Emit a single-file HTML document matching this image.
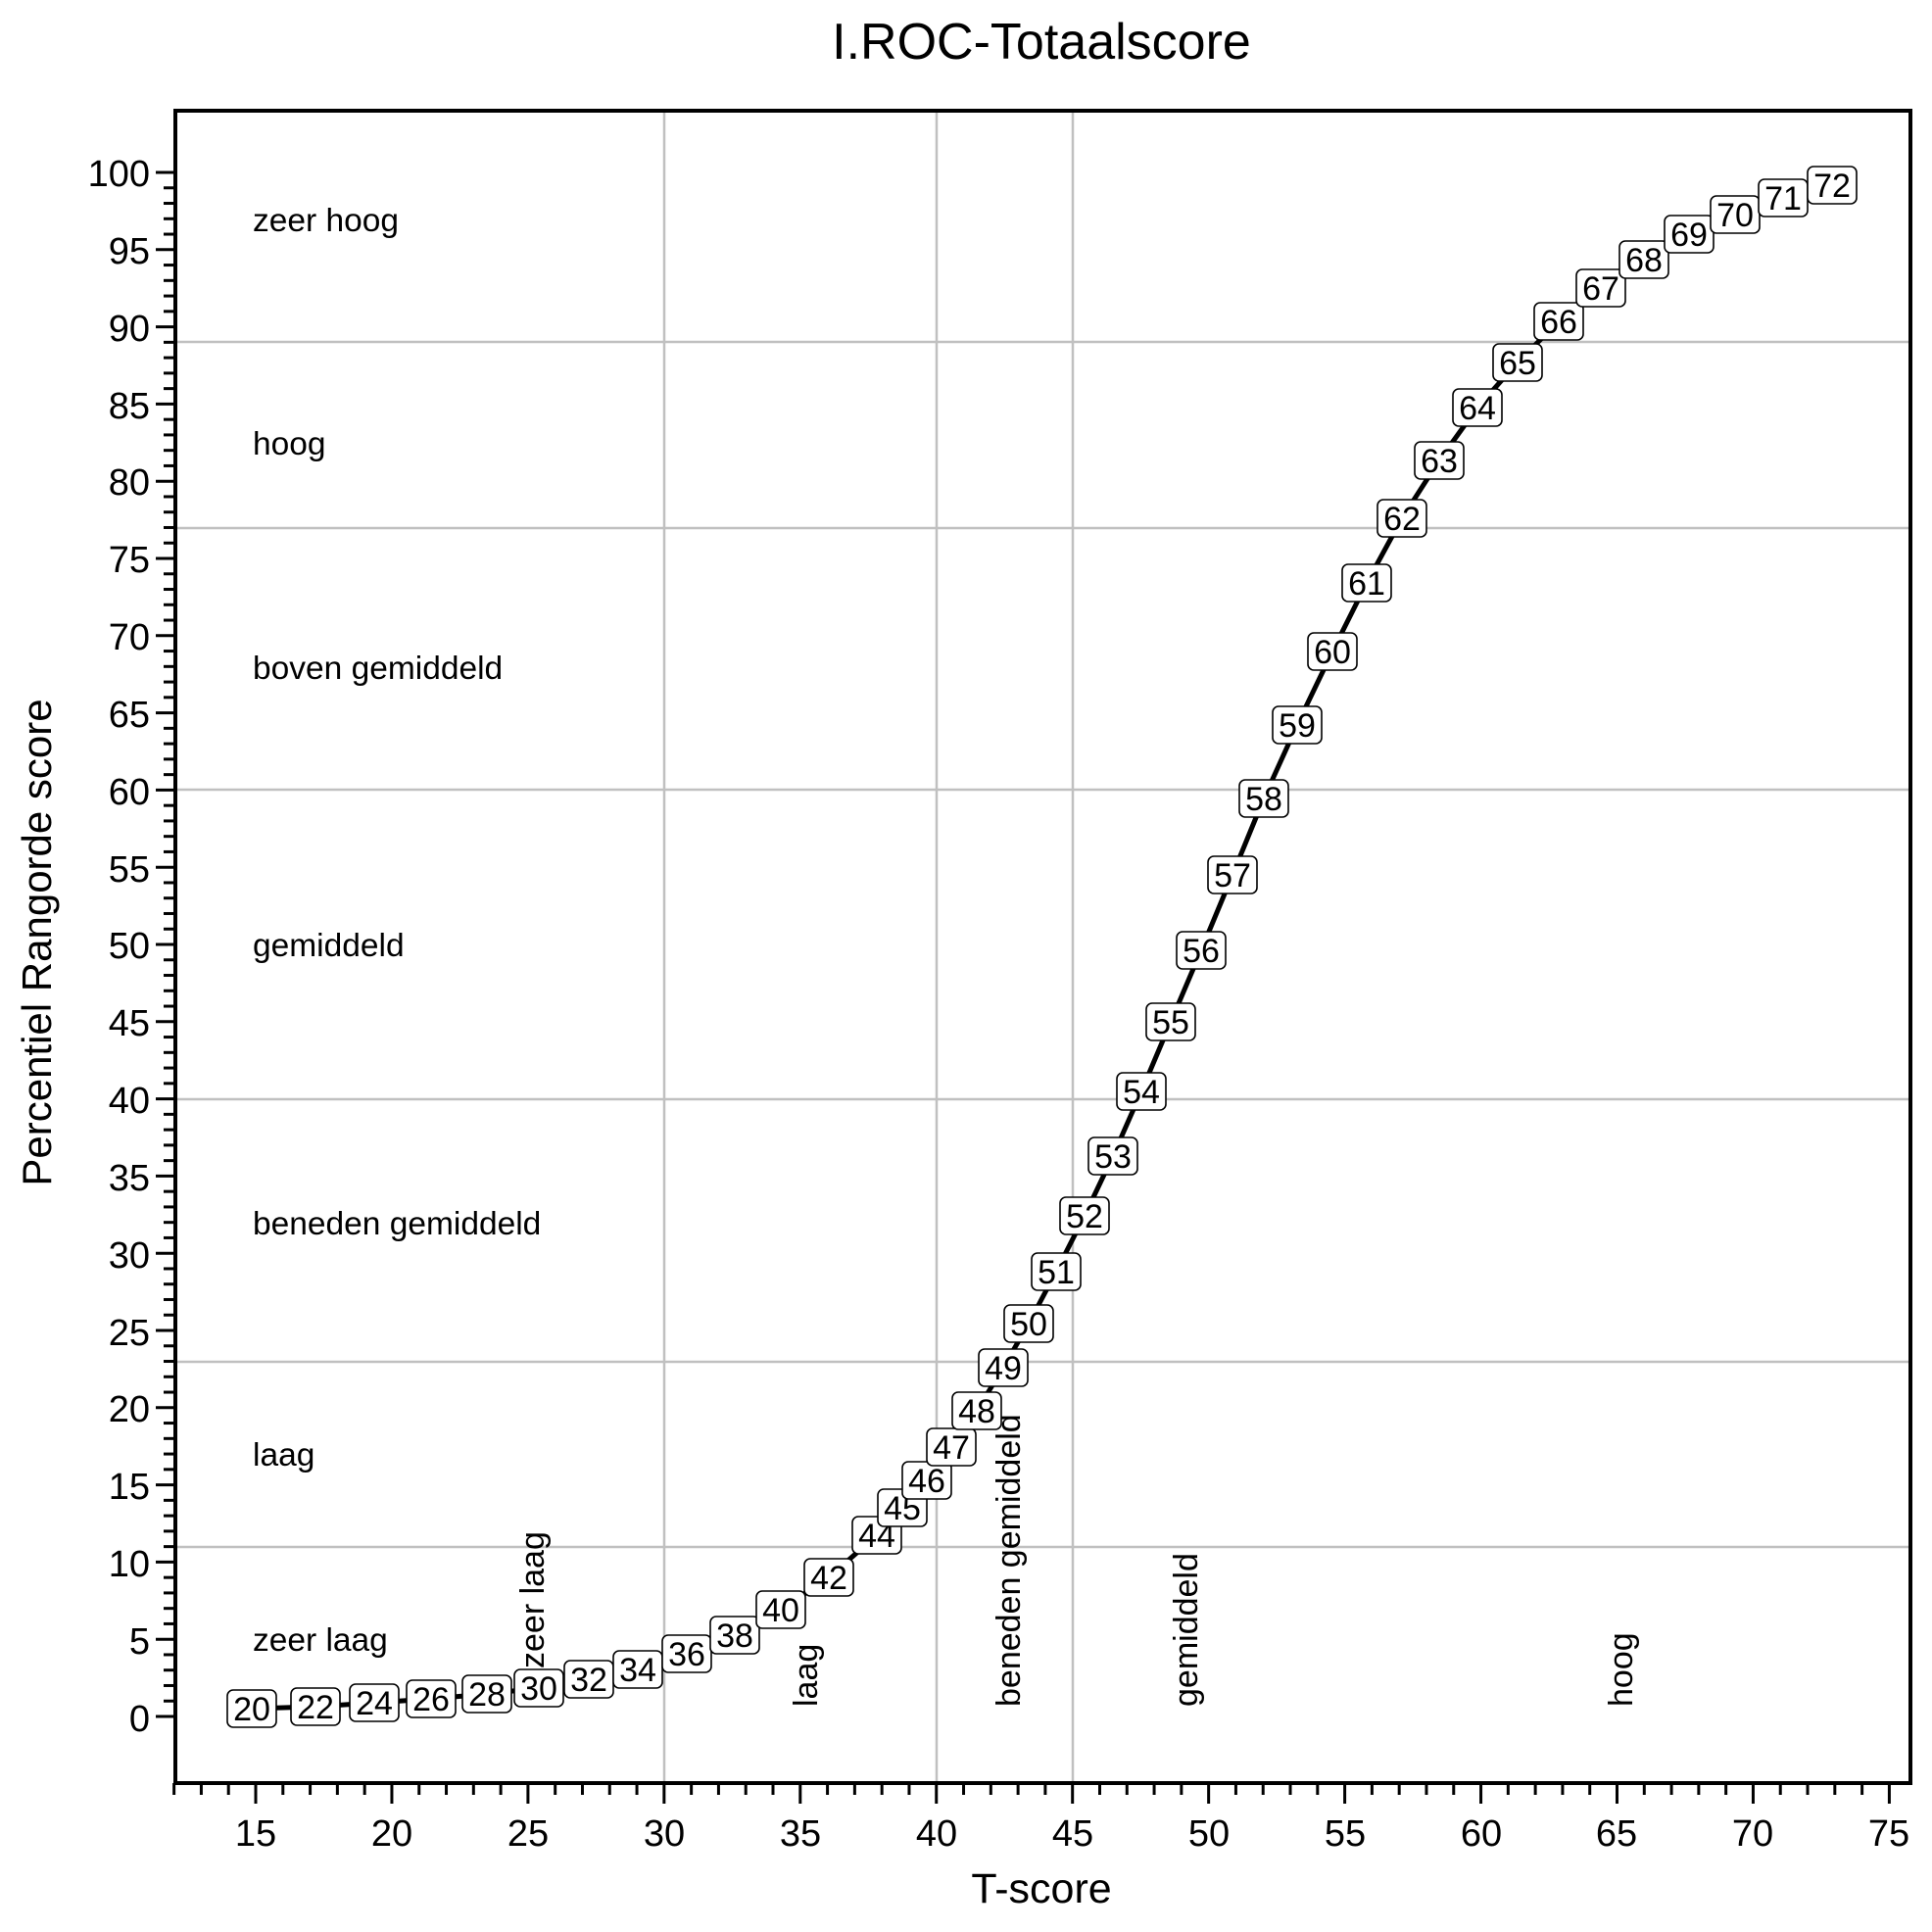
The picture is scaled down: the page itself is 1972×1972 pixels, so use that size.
<!DOCTYPE html>
<html><head><meta charset="utf-8"><style>
html,body{margin:0;padding:0;background:#fff}
svg{display:block}
text{font-family:"Liberation Sans",Arial,sans-serif;fill:#000}
.b rect{fill:#fff;stroke:#000;stroke-width:1.6}
.b text{font-size:34px;text-anchor:middle}
.yt{font-size:38px;text-anchor:end}
.xt{font-size:38px;text-anchor:middle}
.rl{font-size:33.5px}
.vl{font-size:34px}
</style></head><body>
<svg id="s" width="1972" height="1972" viewBox="0 0 1972 1972" xmlns="http://www.w3.org/2000/svg">
<rect width="1972" height="1972" fill="#fff"/>
<text x="1063" y="60" font-size="52" text-anchor="middle">I.ROC-Totaalscore</text>
<g stroke="#c0c0c0" stroke-width="2.5">
<line x1="678" y1="113" x2="678" y2="1820"/>
<line x1="956" y1="113" x2="956" y2="1820"/>
<line x1="1095" y1="113" x2="1095" y2="1820"/>
<line x1="179" y1="349" x2="1950" y2="349"/>
<line x1="179" y1="539" x2="1950" y2="539"/>
<line x1="179" y1="806" x2="1950" y2="806"/>
<line x1="179" y1="1122" x2="1950" y2="1122"/>
<line x1="179" y1="1390" x2="1950" y2="1390"/>
<line x1="179" y1="1579" x2="1950" y2="1579"/>
</g>
<g id="ticks" stroke="#000" stroke-width="3"></g>
<rect x="179" y="113" width="1771" height="1707" fill="none" stroke="#000" stroke-width="4"/>
<g class="yt">
<text x="153" y="190">100</text><text x="153" y="269">95</text><text x="153" y="348">90</text><text x="153" y="427">85</text><text x="153" y="505">80</text><text x="153" y="584">75</text><text x="153" y="663">70</text><text x="153" y="742">65</text><text x="153" y="821">60</text><text x="153" y="900">55</text><text x="153" y="978">50</text><text x="153" y="1057">45</text><text x="153" y="1136">40</text><text x="153" y="1215">35</text><text x="153" y="1294">30</text><text x="153" y="1373">25</text><text x="153" y="1451">20</text><text x="153" y="1530">15</text><text x="153" y="1609">10</text><text x="153" y="1688">5</text><text x="153" y="1767">0</text>
</g>
<g class="xt">
<text x="261" y="1884">15</text><text x="400" y="1884">20</text><text x="539" y="1884">25</text><text x="678" y="1884">30</text><text x="817" y="1884">35</text><text x="956" y="1884">40</text><text x="1095" y="1884">45</text><text x="1234" y="1884">50</text><text x="1373" y="1884">55</text><text x="1512" y="1884">60</text><text x="1650" y="1884">65</text><text x="1789" y="1884">70</text><text x="1928" y="1884">75</text>
</g>
<text x="1063" y="1942" font-size="43" text-anchor="middle">T-score</text>
<text transform="translate(52,962) rotate(-90)" font-size="42" text-anchor="middle">Percentiel Rangorde score</text>
<g class="rl">
<text x="258" y="236">zeer hoog</text>
<text x="258" y="464">hoog</text>
<text x="258" y="693">boven gemiddeld</text>
<text x="258" y="976">gemiddeld</text>
<text x="258" y="1260">beneden gemiddeld</text>
<text x="258" y="1496">laag</text>
<text x="258" y="1685">zeer laag</text>
</g>
<g class="vl">
<text transform="translate(555,1703) rotate(-90)">zeer laag</text>
<text transform="translate(834,1742) rotate(-90)">laag</text>
<text transform="translate(1041,1742) rotate(-90)">beneden gemiddeld</text>
<text transform="translate(1222,1742) rotate(-90)">gemiddeld</text>
<text transform="translate(1666,1742) rotate(-90)">hoog</text>
</g>
<polyline fill="none" stroke="#000" stroke-width="5" stroke-linejoin="round" points="257,1744 322,1742 382,1738 440,1734 497,1729 550,1723 601,1714 651,1704 701,1688 750,1669 797,1643 846,1610 895,1567 921,1539 946,1511 971,1477 997,1440 1024,1396 1050,1351 1078,1298 1107,1241 1136,1180 1165,1114 1195,1043 1226,970 1258,893 1290,815 1324,740 1360,665 1395,595 1431,529 1469,470 1508,416 1549,370 1591,328 1634,294 1678,265 1724,239 1771,219 1820,202 1870,189"/>
<g class="b">
<g transform="translate(257,1744)"><rect x="-25" y="-19" width="50" height="38" rx="6"/><text y="12">20</text></g>
<g transform="translate(322,1742)"><rect x="-25" y="-19" width="50" height="38" rx="6"/><text y="12">22</text></g>
<g transform="translate(382,1738)"><rect x="-25" y="-19" width="50" height="38" rx="6"/><text y="12">24</text></g>
<g transform="translate(440,1734)"><rect x="-25" y="-19" width="50" height="38" rx="6"/><text y="12">26</text></g>
<g transform="translate(497,1729)"><rect x="-25" y="-19" width="50" height="38" rx="6"/><text y="12">28</text></g>
<g transform="translate(550,1723)"><rect x="-25" y="-19" width="50" height="38" rx="6"/><text y="12">30</text></g>
<g transform="translate(601,1714)"><rect x="-25" y="-19" width="50" height="38" rx="6"/><text y="12">32</text></g>
<g transform="translate(651,1704)"><rect x="-25" y="-19" width="50" height="38" rx="6"/><text y="12">34</text></g>
<g transform="translate(701,1688)"><rect x="-25" y="-19" width="50" height="38" rx="6"/><text y="12">36</text></g>
<g transform="translate(750,1669)"><rect x="-25" y="-19" width="50" height="38" rx="6"/><text y="12">38</text></g>
<g transform="translate(797,1643)"><rect x="-25" y="-19" width="50" height="38" rx="6"/><text y="12">40</text></g>
<g transform="translate(846,1610)"><rect x="-25" y="-19" width="50" height="38" rx="6"/><text y="12">42</text></g>
<g transform="translate(895,1567)"><rect x="-25" y="-19" width="50" height="38" rx="6"/><text y="12">44</text></g>
<g transform="translate(921,1539)"><rect x="-25" y="-19" width="50" height="38" rx="6"/><text y="12">45</text></g>
<g transform="translate(946,1511)"><rect x="-25" y="-19" width="50" height="38" rx="6"/><text y="12">46</text></g>
<g transform="translate(971,1477)"><rect x="-25" y="-19" width="50" height="38" rx="6"/><text y="12">47</text></g>
<g transform="translate(997,1440)"><rect x="-25" y="-19" width="50" height="38" rx="6"/><text y="12">48</text></g>
<g transform="translate(1024,1396)"><rect x="-25" y="-19" width="50" height="38" rx="6"/><text y="12">49</text></g>
<g transform="translate(1050,1351)"><rect x="-25" y="-19" width="50" height="38" rx="6"/><text y="12">50</text></g>
<g transform="translate(1078,1298)"><rect x="-25" y="-19" width="50" height="38" rx="6"/><text y="12">51</text></g>
<g transform="translate(1107,1241)"><rect x="-25" y="-19" width="50" height="38" rx="6"/><text y="12">52</text></g>
<g transform="translate(1136,1180)"><rect x="-25" y="-19" width="50" height="38" rx="6"/><text y="12">53</text></g>
<g transform="translate(1165,1114)"><rect x="-25" y="-19" width="50" height="38" rx="6"/><text y="12">54</text></g>
<g transform="translate(1195,1043)"><rect x="-25" y="-19" width="50" height="38" rx="6"/><text y="12">55</text></g>
<g transform="translate(1226,970)"><rect x="-25" y="-19" width="50" height="38" rx="6"/><text y="12">56</text></g>
<g transform="translate(1258,893)"><rect x="-25" y="-19" width="50" height="38" rx="6"/><text y="12">57</text></g>
<g transform="translate(1290,815)"><rect x="-25" y="-19" width="50" height="38" rx="6"/><text y="12">58</text></g>
<g transform="translate(1324,740)"><rect x="-25" y="-19" width="50" height="38" rx="6"/><text y="12">59</text></g>
<g transform="translate(1360,665)"><rect x="-25" y="-19" width="50" height="38" rx="6"/><text y="12">60</text></g>
<g transform="translate(1395,595)"><rect x="-25" y="-19" width="50" height="38" rx="6"/><text y="12">61</text></g>
<g transform="translate(1431,529)"><rect x="-25" y="-19" width="50" height="38" rx="6"/><text y="12">62</text></g>
<g transform="translate(1469,470)"><rect x="-25" y="-19" width="50" height="38" rx="6"/><text y="12">63</text></g>
<g transform="translate(1508,416)"><rect x="-25" y="-19" width="50" height="38" rx="6"/><text y="12">64</text></g>
<g transform="translate(1549,370)"><rect x="-25" y="-19" width="50" height="38" rx="6"/><text y="12">65</text></g>
<g transform="translate(1591,328)"><rect x="-25" y="-19" width="50" height="38" rx="6"/><text y="12">66</text></g>
<g transform="translate(1634,294)"><rect x="-25" y="-19" width="50" height="38" rx="6"/><text y="12">67</text></g>
<g transform="translate(1678,265)"><rect x="-25" y="-19" width="50" height="38" rx="6"/><text y="12">68</text></g>
<g transform="translate(1724,239)"><rect x="-25" y="-19" width="50" height="38" rx="6"/><text y="12">69</text></g>
<g transform="translate(1771,219)"><rect x="-25" y="-19" width="50" height="38" rx="6"/><text y="12">70</text></g>
<g transform="translate(1820,202)"><rect x="-25" y="-19" width="50" height="38" rx="6"/><text y="12">71</text></g>
<g transform="translate(1870,189)"><rect x="-25" y="-19" width="50" height="38" rx="6"/><text y="12">72</text></g>
</g>
</svg>
<script>
(function(){
var g=document.getElementById('ticks'),h='';
for(var v=0;v<=100;v++){var y=1752-15.76*v;var maj=v%5==0;
h+='<line x1="'+(maj?159:167)+'" y1="'+y+'" x2="179" y2="'+y+'"/>';}
for(var t=12;t<=75;t++){var x=261+(t-15)*27.79;var maj=t%5==0;
h+='<line x1="'+x+'" y1="1820" x2="'+x+'" y2="'+(maj?1841:1832)+'"/>';}
g.innerHTML=h;
})();
</script>
</body></html>
